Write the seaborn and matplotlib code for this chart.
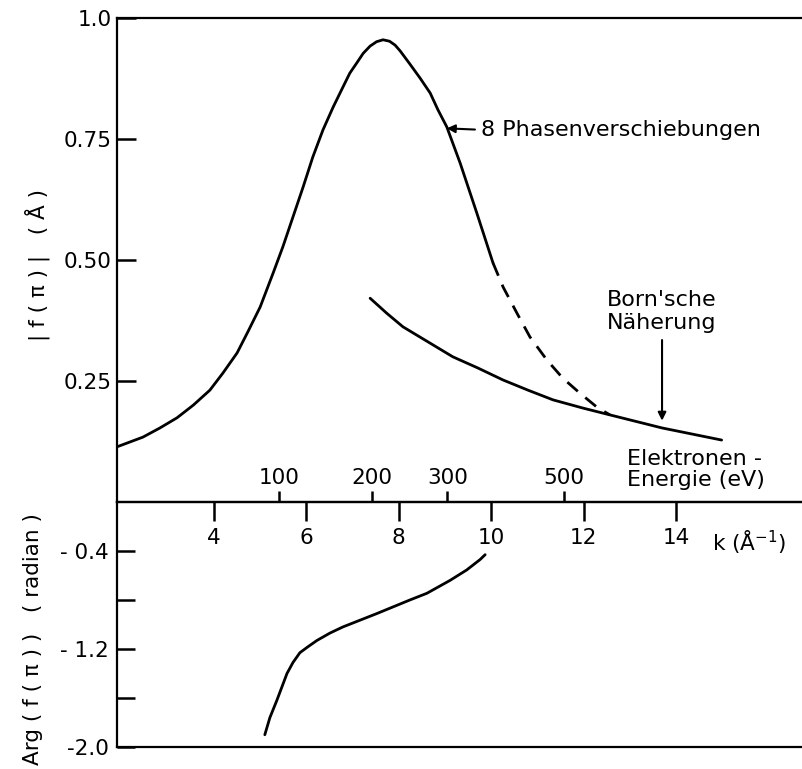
import numpy as np
import pandas as pd
import matplotlib
matplotlib.use("Agg")
import matplotlib.pyplot as plt
import seaborn as sns

# ---------------- data ----------------
# |f(pi)| from 8 phase shifts (solid part)
k_phase8 = [1.90, 2.46, 2.83, 3.20, 3.55, 3.91, 4.19, 4.50, 4.73, 5.00, 5.28, 5.49, 5.71, 5.93,
            6.14, 6.36, 6.58, 6.79, 6.94, 7.09, 7.23, 7.38, 7.52, 7.66, 7.80, 7.92, 8.03,
            8.24, 8.46, 8.68, 8.85, 9.04, 9.33, 9.69, 10.04]
f_phase8 = [0.114, 0.134, 0.153, 0.174, 0.200, 0.231, 0.266, 0.308, 0.351, 0.403, 0.473, 0.527,
            0.589, 0.651, 0.713, 0.769, 0.816, 0.857, 0.886, 0.907, 0.927, 0.942, 0.951,
            0.955, 0.952, 0.944, 0.932, 0.905, 0.876, 0.845, 0.810, 0.775, 0.700, 0.597,
            0.494]
# dashed continuation
k_dash = [10.04, 10.26, 10.56, 10.84, 11.21, 11.55, 11.92, 12.29, 12.57]
f_dash = [0.494, 0.444, 0.390, 0.341, 0.293, 0.256, 0.225, 0.196, 0.180]
# Born approximation
k_born = [7.38, 7.74, 8.09, 8.63, 9.17, 9.71, 10.26, 10.80, 11.34, 11.99, 12.57, 13.70, 14.99]
f_born = [0.421, 0.390, 0.362, 0.331, 0.300, 0.277, 0.252, 0.231, 0.211, 0.194, 0.180,
          0.153, 0.128]
# Arg f(pi)
k_arg = [5.10, 5.21, 5.36, 5.47, 5.58, 5.71, 5.86, 6.04, 6.23, 6.51, 6.79, 7.53, 8.24,
         8.61, 9.11, 9.47, 9.76, 9.87]
arg_f = [-1.90, -1.76, -1.62, -1.51, -1.40, -1.31, -1.23, -1.18, -1.13, -1.07, -1.02,
         -0.91, -0.80, -0.745, -0.64, -0.555, -0.47, -0.43]

# axis ticks
k_ticks = [4, 6, 8, 10, 12, 14]
energy_labels = ["100", "200", "300", "500"]
energy_tick_k = [5.40, 7.42, 9.05, 11.57]
top_yticks = [0.25, 0.50, 0.75, 1.0]
top_ylabels = ["0.25", "0.50", "0.75", "1.0"]
bot_yticks = [-0.4, -0.8, -1.2, -1.6, -2.0]
bot_ylabels = ["- 0.4", "", "- 1.2", "", "-2.0"]

# ---------------- style ----------------
sns.set_theme(style="white")
plt.rcParams["font.family"] = ["DejaVu Sans"]
plt.rcParams["mathtext.fontset"] = "dejavusans"
for key in ("text.color", "axes.labelcolor", "xtick.color", "ytick.color", "axes.edgecolor"):
    plt.rcParams[key] = "black"
FS = 15.5
FS_ANN = 16
LW_CURVE = 2.0
LW_AX = 1.6

W, H = 802, 769
L = 117
fig = plt.figure(figsize=(W / 100, H / 100), dpi=100)
fig.patch.set_facecolor("white")
ax_top = fig.add_axes([L / W, (H - 502) / H, (W - L) / W, (502 - 18) / H])
ax_bot = fig.add_axes([L / W, (H - 747) / H, (W - L) / W, (747 - 502) / H])
for ax in (ax_top, ax_bot):
    ax.set_facecolor("none")
    ax.set_xlim(1.90, 16.73)
    for s in ("left", "top", "bottom"):
        ax.spines[s].set_visible(True)
        ax.spines[s].set_color("black")
        ax.spines[s].set_linewidth(LW_AX)
    ax.spines["right"].set_visible(False)

# ---------------- curves ----------------
sns.lineplot(x=k_phase8, y=f_phase8, ax=ax_top, color="black", lw=LW_CURVE, sort=False)
sns.lineplot(x=k_dash, y=f_dash, ax=ax_top, color="black", lw=LW_CURVE, sort=False,
             linestyle=(0, (5, 3.5)))
sns.lineplot(x=k_born, y=f_born, ax=ax_top, color="black", lw=LW_CURVE, sort=False)
sns.lineplot(x=k_arg, y=arg_f, ax=ax_bot, color="black", lw=LW_CURVE, sort=False)

# ---------------- top axes ----------------
ax_top.set_ylim(0, 1.0)
ax_top.set_yticks(top_yticks)
ax_top.set_yticklabels(top_ylabels)
ax_top.tick_params(axis="y", direction="in", length=14, width=1.8, pad=4,
                   labelsize=FS, left=True, right=False)
ax_top.set_xticks(k_ticks)
ax_top.set_xticklabels([str(t) for t in k_ticks])
ax_top.tick_params(axis="x", direction="out", length=14, width=1.8, pad=5,
                   labelsize=FS, bottom=True, top=False)
ax_top.set_xlabel("k (Å$^{-1}$)", fontsize=FS)
ax_top.xaxis.set_label_coords(0.923, -0.055)
ax_top.set_ylabel("| f ( π ) |   ( Å )", fontsize=FS)
ax_top.yaxis.set_label_coords(-0.098, 0.49)

ax_top.annotate("8 Phasenverschiebungen", xy=(9.04, 0.772), xytext=(9.78, 0.769),
                ha="left", va="center", fontsize=FS_ANN,
                arrowprops=dict(arrowstyle="-|>", color="black", lw=1.5,
                                relpos=(0, 0.5), shrinkA=2, shrinkB=0,
                                mutation_scale=12))
ax_top.annotate("Born'sche\nNäherung", xy=(13.70, 0.168), xytext=(13.70, 0.35),
                ha="center", va="bottom", multialignment="left",
                fontsize=FS_ANN, linespacing=1.15,
                arrowprops=dict(arrowstyle="-|>", color="black", lw=1.5,
                                relpos=(0.5, 0), shrinkA=3, shrinkB=0,
                                mutation_scale=12))
ax_top.text(12.94, 0.024, "Elektronen -\nEnergie (eV)", ha="left", va="bottom",
            fontsize=FS_ANN, linespacing=1.1)

# ---------------- bottom axes ----------------
ax_bot.set_ylim(-2.0, 0.0)
ax_bot.set_yticks(bot_yticks)
ax_bot.set_yticklabels(bot_ylabels)
ax_bot.tick_params(axis="y", direction="in", length=13, width=1.8, pad=6,
                   labelsize=FS, left=True, right=False)
ax_bot.set_xticks(energy_tick_k)
ax_bot.set_xticklabels(energy_labels)
ax_bot.tick_params(axis="x", direction="out", length=8, width=1.8, pad=2,
                   labelsize=FS, bottom=False, labelbottom=False,
                   top=True, labeltop=True)
ax_bot.set_ylabel("Arg ( f ( π ) )   ( radian )", fontsize=FS)
ax_bot.yaxis.set_label_coords(-0.108, 0.44)

fig.savefig("out.png", dpi=100, facecolor="white")
